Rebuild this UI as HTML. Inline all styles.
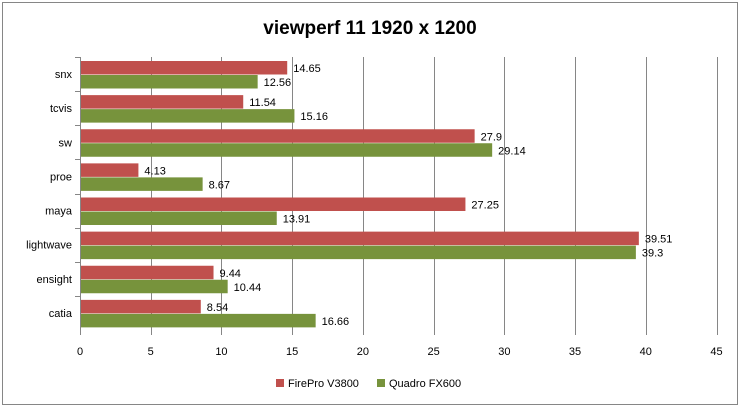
<!DOCTYPE html>
<html><head><meta charset="utf-8"><style>
body{margin:0;background:#fff;font-family:"Liberation Sans",sans-serif;}
svg text{font-family:"Liberation Sans",sans-serif;}
</style></head><body>
<svg width="740" height="407" id="c">
<rect x="2.5" y="2.5" width="735" height="402" fill="#fff" stroke="#868686"/>
<text x="370" y="34" text-anchor="middle" font-size="19" font-weight="bold" fill="#000">viewperf 11 1920 x 1200</text>
<g id="grid"></g><g id="bars"></g><g id="labels"></g>
<g>
<rect x="276" y="379" width="8" height="8" fill="#C0504D"/>
<text x="288" y="387" font-size="11" fill="#000">FirePro V3800</text>
<rect x="377" y="379" width="8" height="8" fill="#77933C"/>
<text x="389" y="387" font-size="11" fill="#000">Quadro FX600</text>
</g>
</svg>
<script>
const categories=["snx","tcvis","sw","proe","maya","lightwave","ensight","catia"];
const fireproValues=[14.65,11.54,27.9,4.13,27.25,39.51,9.44,8.54];
const quadroValues=[12.56,15.16,29.14,8.67,13.91,39.3,10.44,16.66];
const xTicks=[0,5,10,15,20,25,30,35,40,45];
const NS="http://www.w3.org/2000/svg";
const X0=80,X1=716.5,Y0=57,Y1=330,XMAX=45;
const xs=v=>X0+v/XMAX*(X1-X0);
const band=(Y1-Y0)/categories.length;
function mk(t,a,p){const e=document.createElementNS(NS,t);for(const k in a)e.setAttribute(k,a[k]);p.appendChild(e);return e;}
const g=document.getElementById('grid'),b=document.getElementById('bars'),l=document.getElementById('labels');
xTicks.forEach(t=>{
 const x=Math.round(xs(t))+0.5;
 const ln=mk('line',{x1:x,x2:x,y1:Y0,y2:Y1+5,stroke:t===0?'#868686':'#868686'},g);
 
 
 const tx=mk('text',{x:xs(t),y:Y1+25,'text-anchor':'middle','font-size':11,fill:'#000'},l);
 tx.textContent=t;
 
 
});
categories.forEach((c,i)=>{
 const top=Y0+i*band;
 const t=mk('line',{x1:X0-5,x2:X0,y1:Math.round(top)+0.5,y2:Math.round(top)+0.5,stroke:'#868686'},g);
 
 
 const cl=mk('text',{x:X0-8,y:top+band/2+4,'text-anchor':'end','font-size':11,fill:'#000'},l);
 cl.textContent=c;
 
 
 [[fireproValues[i],'#C0504D',top+4,'bar-firepro'],[quadroValues[i],'#77933C',top+4+14,'bar-quadro']].forEach(([v,col,y,n])=>{
  const r=mk('rect',{x:X0+1,y:y,width:xs(v)-X0-1,height:13.5,fill:col},b);
  
  
  const vt=mk('text',{x:xs(v)+6,y:y+11,'font-size':11,fill:'#000'},l);
  vt.textContent=v;
  
  
 });
});
const ax=mk('line',{x1:X0+0.5,x2:X0+0.5,y1:Y0,y2:Y1,stroke:'#868686'},g);


</script>
</body></html>
